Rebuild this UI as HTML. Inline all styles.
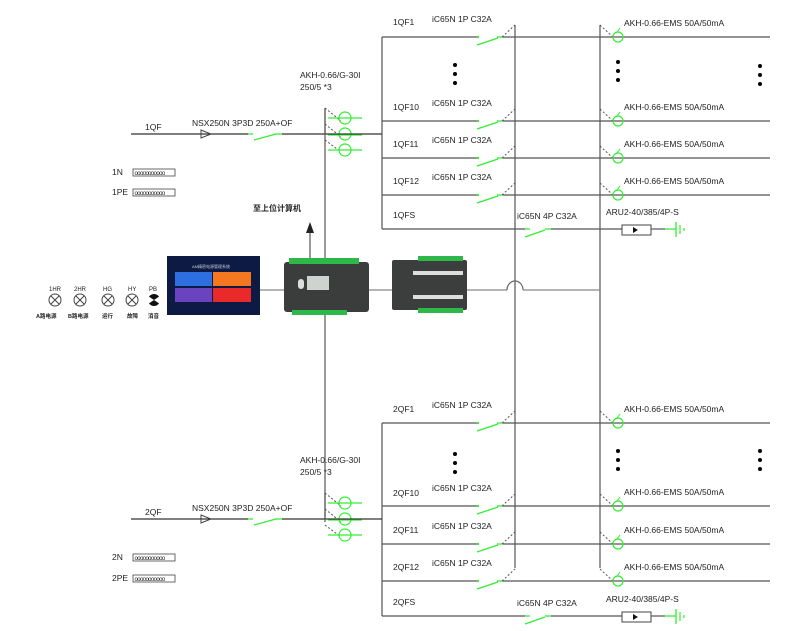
<!DOCTYPE html>
<html><head><meta charset="utf-8"><style>
html,body{margin:0;padding:0;background:#fff;width:800px;height:631px;overflow:hidden}
text{font-family:"Liberation Sans","Noto Sans CJK SC",sans-serif;font-size:8.5px;fill:#222}
</style></head><body>
<svg width="800" height="631" viewBox="0 0 800 631" xmlns="http://www.w3.org/2000/svg">
<defs>
<g id="br">
  <line x1="382" y1="0" x2="477" y2="0" stroke="#555" stroke-width="1.2"/>
  <circle cx="478" cy="0" r="1.2" fill="#3e3"/>
  <line x1="477" y1="8" x2="498" y2="1" stroke="#3e3" stroke-width="1.3"/>
  <line x1="497" y1="0" x2="503" y2="0" stroke="#3e3" stroke-width="1.3"/>
  <line x1="503" y1="0" x2="770" y2="0" stroke="#555" stroke-width="1.2"/>
  <line x1="502" y1="0" x2="515" y2="-12" stroke="#555" stroke-dasharray="2,2"/>
  <line x1="600" y1="-12" x2="613" y2="0" stroke="#555" stroke-dasharray="2,2"/>
  <circle cx="618" cy="0" r="5" fill="none" stroke="#3e3" stroke-width="1.2"/>
  <line x1="617" y1="-5" x2="620" y2="-9" stroke="#3e3"/>
  <text x="432" y="-15">iC65N 1P C32A</text>
  <text x="624" y="-11">AKH-0.66-EMS 50A/50mA</text>
</g>
<g id="ct">
  <line x1="0" y1="-26" x2="0" y2="0" stroke="#555" stroke-width="1.2"/>
  <line x1="0" y1="-26" x2="16" y2="-13" stroke="#555" stroke-dasharray="2,2"/>
  <line x1="0" y1="-10" x2="16" y2="3" stroke="#555" stroke-dasharray="2,2"/>
  <line x1="0" y1="6" x2="16" y2="18" stroke="#555" stroke-dasharray="2,2"/>
  <circle cx="20" cy="-16" r="6" fill="none" stroke="#3e3" stroke-width="1.2"/>
  <circle cx="20" cy="0" r="6" fill="none" stroke="#3e3" stroke-width="1.2"/>
  <circle cx="20" cy="16" r="6" fill="none" stroke="#3e3" stroke-width="1.2"/>
  <line x1="3" y1="-16" x2="37" y2="-16" stroke="#3e3" stroke-width="1.2"/>
  <line x1="3" y1="16" x2="37" y2="16" stroke="#3e3" stroke-width="1.2"/>
  <line x1="3" y1="1" x2="37" y2="1" stroke="#3e3" stroke-width="1.2"/>
  <line x1="-194" y1="0" x2="57" y2="0" stroke="#333" stroke-width="1.3"/>
  <polygon points="-124,-4 -114,0 -124,4" fill="none" stroke="#444"/>
  <line x1="-77" y1="0" x2="-43" y2="0" stroke="#fff" stroke-width="2"/>
  <line x1="-77" y1="0" x2="-72" y2="0" stroke="#3e3" stroke-width="1.3"/>
  <line x1="-71" y1="6" x2="-49" y2="0" stroke="#3e3" stroke-width="1.3"/>
  <line x1="-50" y1="0" x2="-43" y2="0" stroke="#3e3" stroke-width="1.3"/>
  <text x="-25" y="-56">AKH-0.66/G-30I</text>
  <text x="-25" y="-44">250/5  *3</text>
  <text x="-133" y="-8">NSX250N 3P3D 250A+OF</text>
</g>
<g id="tb">
  <rect x="0" y="0" width="42" height="7" fill="#fff" stroke="#444" stroke-width="0.8"/>
  <text x="1.5" y="6" style="font-size:6px;letter-spacing:-0.6px">ooooooooooo</text>
</g>
<g id="dots"><circle cx="0" cy="0" r="2" fill="#000"/><circle cx="0" cy="9" r="2" fill="#000"/><circle cx="0" cy="18" r="2" fill="#000"/></g>
</defs>

<!-- verticals -->
<line x1="515" y1="25" x2="515" y2="568" stroke="#555" stroke-width="1.2"/>
<line x1="600" y1="25" x2="600" y2="568" stroke="#555" stroke-width="1.2"/>

<!-- brackets -->
<line x1="382" y1="37" x2="382" y2="229" stroke="#555" stroke-width="1.2"/>
<line x1="382" y1="423" x2="382" y2="616" stroke="#555" stroke-width="1.2"/>

<use href="#br" y="37"/><use href="#br" y="121"/><use href="#br" y="158"/><use href="#br" y="195"/>
<use href="#br" y="423"/><use href="#br" y="506"/><use href="#br" y="544"/><use href="#br" y="581"/>

<text x="393" y="25">1QF1</text><text x="393" y="110">1QF10</text><text x="393" y="147">1QF11</text><text x="393" y="184">1QF12</text><text x="393" y="218">1QFS</text>
<text x="393" y="412">2QF1</text><text x="393" y="496">2QF10</text><text x="393" y="533">2QF11</text><text x="393" y="570">2QF12</text><text x="393" y="605">2QFS</text>

<use href="#dots" x="455" y="65"/><use href="#dots" x="618" y="62"/><use href="#dots" x="760" y="66"/>
<use href="#dots" x="455" y="454"/><use href="#dots" x="618" y="451"/><use href="#dots" x="760" y="451"/>

<!-- FS rows -->
<g id="fs">
<line x1="382" y1="229" x2="525" y2="229" stroke="#555" stroke-width="1.2"/>
<line x1="525" y1="229" x2="530" y2="229" stroke="#3e3" stroke-width="1.3"/>
<line x1="525" y1="237" x2="545" y2="230" stroke="#3e3" stroke-width="1.3"/>
<line x1="545" y1="229" x2="551" y2="229" stroke="#3e3" stroke-width="1.3"/>
<line x1="551" y1="229" x2="622" y2="229" stroke="#555" stroke-width="1.2"/>
<rect x="622" y="225" width="29" height="10" fill="#fff" stroke="#444"/>
<polygon points="633,227 638,230 633,233" fill="#111"/>
<line x1="651" y1="229" x2="665" y2="229" stroke="#555" stroke-width="1.2"/>
<line x1="665" y1="229" x2="676" y2="229" stroke="#3e3" stroke-width="1.3"/>
<line x1="676" y1="222" x2="676" y2="237" stroke="#3e3" stroke-width="1.3"/>
<line x1="680" y1="225" x2="680" y2="234" stroke="#3e3" stroke-width="1.2"/>
<line x1="684" y1="228" x2="684" y2="231" stroke="#3e3" stroke-width="1.2"/>
<text x="517" y="219">iC65N 4P C32A</text>
<text x="606" y="215">ARU2-40/385/4P-S</text>
</g>
<use href="#fs" y="387"/>

<!-- incomers -->
<g transform="translate(325,134)"><use href="#ct"/></g>
<g transform="translate(325,519)"><use href="#ct"/></g>
<line x1="325" y1="108" x2="325" y2="522" stroke="#555" stroke-width="1.2"/>
<text x="145" y="130">1QF</text><text x="145" y="515">2QF</text>

<text x="112" y="175">1N</text><use href="#tb" x="133" y="169"/>
<text x="112" y="195">1PE</text><use href="#tb" x="133" y="189"/>
<text x="112" y="560">2N</text><use href="#tb" x="133" y="554"/>
<text x="112" y="581">2PE</text><use href="#tb" x="133" y="575"/>

<!-- comm -->
<line x1="260" y1="290" x2="507" y2="290" stroke="#888" stroke-width="1.2"/>
<path d="M507 290 A8 9 0 0 1 523 290" fill="none" stroke="#666" stroke-width="1.2"/>
<line x1="523" y1="290" x2="600" y2="290" stroke="#888" stroke-width="1.2"/>
<line x1="310" y1="262" x2="310" y2="232" stroke="#555" stroke-width="1.2"/>
<polygon points="306,233 310,222 314,233" fill="#222"/>
<text x="253" y="211" style="font-size:8px;font-weight:bold">至上位计算机</text>

<!-- screen -->
<rect x="167" y="256" width="93" height="59" fill="#0d1a44"/>
<rect x="175" y="272" width="37" height="14" fill="#2d6fe0"/>
<rect x="213" y="272" width="38" height="14" fill="#f5771f"/>
<rect x="175" y="288" width="37" height="14" fill="#6a43c0"/>
<rect x="213" y="288" width="38" height="14" fill="#ea2a2a"/>
<text x="192" y="268" style="font-size:4px;fill:#ccd">AM精密电源管理系统</text>
<!-- module 1 -->
<rect x="284" y="262" width="85" height="50" rx="3" fill="#3a3d3c"/>
<rect x="289" y="258" width="70" height="6" fill="#2fb84a"/>
<rect x="292" y="310" width="55" height="5" fill="#2fb84a"/>
<rect x="298" y="279" width="6" height="10" rx="3" fill="#ddd"/>
<rect x="307" y="276" width="22" height="14" fill="#cfd3cf"/>
<!-- module 2 -->
<rect x="392" y="260" width="75" height="50" rx="2" fill="#3c3e3d"/>
<rect x="418" y="256" width="45" height="5" fill="#2fb84a"/>
<rect x="418" y="308" width="45" height="5" fill="#2fb84a"/>
<rect x="413" y="271" width="50" height="4" fill="#ddd"/>
<rect x="413" y="295" width="50" height="4" fill="#ddd"/>

<!-- lamps -->
<g fill="none" stroke="#444" stroke-width="1">
<circle cx="55" cy="300" r="6"/><path d="M51 296 L59 304 M59 296 L51 304"/>
<circle cx="80" cy="300" r="6"/><path d="M76 296 L84 304 M84 296 L76 304"/>
<circle cx="108" cy="300" r="6"/><path d="M104 296 L112 304 M112 296 L104 304"/>
<circle cx="132" cy="300" r="6"/><path d="M128 296 L136 304 M136 296 L128 304"/>
</g>
<circle cx="154" cy="300" r="6" fill="#111"/>
<path d="M148 296 L154 300 L148 304 Z M160 296 L154 300 L160 304 Z" fill="#fff"/>
<text x="49" y="291" style="font-size:6px">1HR</text><text x="74" y="291" style="font-size:6px">2HR</text><text x="103" y="291" style="font-size:6px">HG</text><text x="128" y="291" style="font-size:6px">HY</text><text x="149" y="291" style="font-size:6px">PB</text>
<text x="36" y="318" style="font-size:5.5px;font-weight:bold">A路电源</text><text x="68" y="318" style="font-size:5.5px;font-weight:bold">B路电源</text><text x="102" y="318" style="font-size:5.5px;font-weight:bold">运行</text><text x="127" y="318" style="font-size:5.5px;font-weight:bold">故障</text><text x="148" y="318" style="font-size:5.5px;font-weight:bold">消音</text>
</svg>
</body></html>
